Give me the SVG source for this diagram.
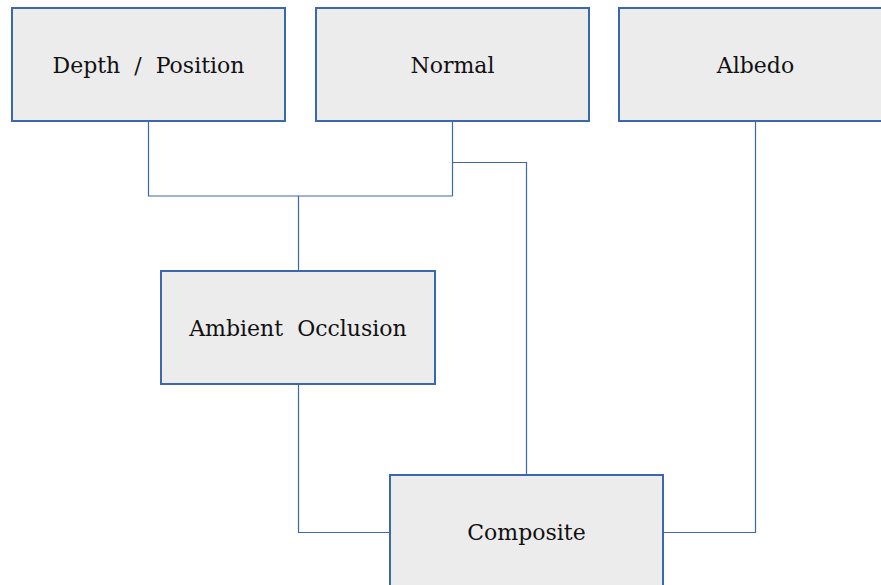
<svg xmlns="http://www.w3.org/2000/svg" width="881" height="585" viewBox="0 0 881 585">
  <style>
    .box { fill: #ececec; stroke: #3b68ad; stroke-width: 2; }
    .lbl { font-family: "DejaVu Serif", "Liberation Serif", serif; font-size: 22px; fill: #111; text-anchor: middle; dominant-baseline: central; word-spacing: 7px; }
    .wire { fill: none; stroke: #3b68ad; stroke-width: 1.2; }
  </style>
  <rect width="881" height="585" fill="#ffffff"/>
  <g id="connectors">
    <polyline class="wire" points="148.5,121 148.5,196 452.5,196"/>
    <line class="wire" x1="452.5" y1="121" x2="452.5" y2="196"/>
    <line class="wire" x1="298.5" y1="196" x2="298.5" y2="271"/>
    <polyline class="wire" points="452.5,162.5 526.5,162.5 526.5,475"/>
    <polyline class="wire" points="298.5,385 298.5,532.5 390,532.5"/>
    <polyline class="wire" points="755.5,121 755.5,532.5 663,532.5"/>
  </g>
  <g id="depth">
    <rect class="box" x="12" y="8" width="273" height="113"/>
    <text class="lbl" x="148.5" y="65">Depth / Position</text>
  </g>
  <g id="normal">
    <rect class="box" x="316" y="8" width="273" height="113"/>
    <text class="lbl" x="452.5" y="65">Normal</text>
  </g>
  <g id="albedo">
    <rect class="box" x="619" y="8" width="273" height="113"/>
    <text class="lbl" x="755.5" y="65">Albedo</text>
  </g>
  <g id="ao">
    <rect class="box" x="161" y="271" width="274" height="113"/>
    <text class="lbl" x="298" y="328">Ambient Occlusion</text>
  </g>
  <g id="composite">
    <rect class="box" x="390" y="475" width="273" height="113"/>
    <text class="lbl" x="526.5" y="532">Composite</text>
  </g>
</svg>
